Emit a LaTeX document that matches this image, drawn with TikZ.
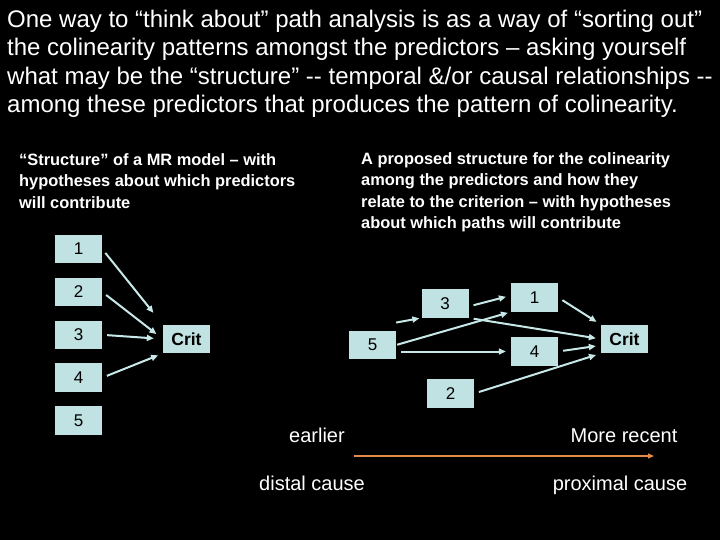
\documentclass[tikz,border=0pt]{standalone}
\usepackage{fontspec}
\setmainfont{Liberation Sans}
\usetikzlibrary{arrows.meta, positioning}
\definecolor{boxcyan}{RGB}{192,226,226}
\definecolor{arrowcyan}{RGB}{200,232,232}
\definecolor{timeorange}{RGB}{228,138,70}

\begin{document}
\begin{tikzpicture}[
    x=1pt, y=-1pt,
    node distance=14pt,
    var/.style={rectangle, fill=boxcyan, minimum width=47pt, minimum height=28.5pt, inner sep=0pt, font=\fontsize{17}{20}\selectfont},
    crit/.style={var, font=\fontsize{17.5}{20}\selectfont\bfseries},
    heading/.style={text=white, align=left, anchor=north west, inner sep=0pt},
    timelabel/.style={text=white, font=\fontsize{20}{24}\selectfont, anchor=base},
    link/.style={-{Triangle[length=7pt,width=6pt]}, line width=2pt, draw=arrowcyan, shorten <=5pt, shorten >=5pt},
    timeline/.style={-{Triangle[length=6pt,width=5pt]}, line width=1.3pt, draw=timeorange}
]

% Hintergrund
\fill[black] (0,0) rectangle (720,540);

% Titel
\node[heading, font=\fontsize{24}{28.5}\selectfont] (title) at (7,9.5)
  {One way to “think about” path analysis is as a way of “sorting out”\\
   the colinearity patterns amongst the predictors – asking yourself\\
   what may be the “structure” -{}- temporal \&/or causal relationships -{}-\\
   among these predictors that produces the pattern of colinearity.};

% Untertitel
\node[heading, font=\fontsize{16.4}{21.6}\selectfont\bfseries] (mrtext) at (19,153)
  {“Structure” of a MR model – with\\
   hypotheses about which predictors\\
   will contribute};
\node[heading, font=\fontsize{16.4}{21.6}\selectfont\bfseries] (pathtext) at (361,152)
  {A proposed structure for the colinearity\\
   among the predictors and how they\\
   relate to the criterion – with hypotheses\\
   about which paths will contribute};

% MR-Modell (links)
\node[var] (m1) at (78.5,249) {1};
\node[var, below=of m1] (m2) {2};
\node[var, below=of m2] (m3) {3};
\node[var, below=of m3] (m4) {4};
\node[var, below=of m4] (m5) {5};
\node[crit] (mcrit) at (186.5,339) {Crit};

\draw[link, shorten >=15pt] (m1.east) -- (mcrit.north west);
\draw[link, shorten >=8pt] (m2.east) -- (mcrit.west);
\draw[link, shorten >=9pt] (m3.east) -- (mcrit.west);
\draw[link] (m4.east) -- (mcrit.south west);

% Pfadmodell (rechts)
\node[var] (p5) at (372.5,345) {5};
\node[var] (p3) at (445,303.5) {3};
\node[var] (p1) at (534.5,297.5) {1};
\node[var] (p4) at (534.5,351.5) {4};
\node[var] (p2) at (450.5,393.5) {2};
\node[crit] (pcrit) at (624.5,339) {Crit};

\draw[link, shorten <=0pt, shorten >=2pt] ([yshift=8pt]p5.north east) -- (p3.south west);
\draw[link] ([yshift=-3pt]p3.east) -- ([yshift=2pt]p1.west);
\draw[link, shorten <=1pt, shorten >=3pt] (p5.east) -- (p1.south west);
\draw[link] (p3.south east) -- (pcrit.west);
\draw[link] (p5.east |- p4.west) -- (p4.west);
\draw[link] (p1.east) -- (pcrit.north west);
\draw[link] (p4.east) -- (pcrit.195);
\draw[link] (p2.east) -- (pcrit.south west);

% Zeitachse
\coordinate (tstart) at (354,456);
\coordinate (tend) at (654,456);
\draw[timeline] (tstart) -- (tend);
\node[timelabel] (early) at (317,442) {earlier};
\node[timelabel] (recent) at (624,442) {More recent};
\node[timelabel] (distal) at (312,490) {distal cause};
\node[timelabel] (proximal) at (620,490) {proximal cause};

\end{tikzpicture}
\end{document}
